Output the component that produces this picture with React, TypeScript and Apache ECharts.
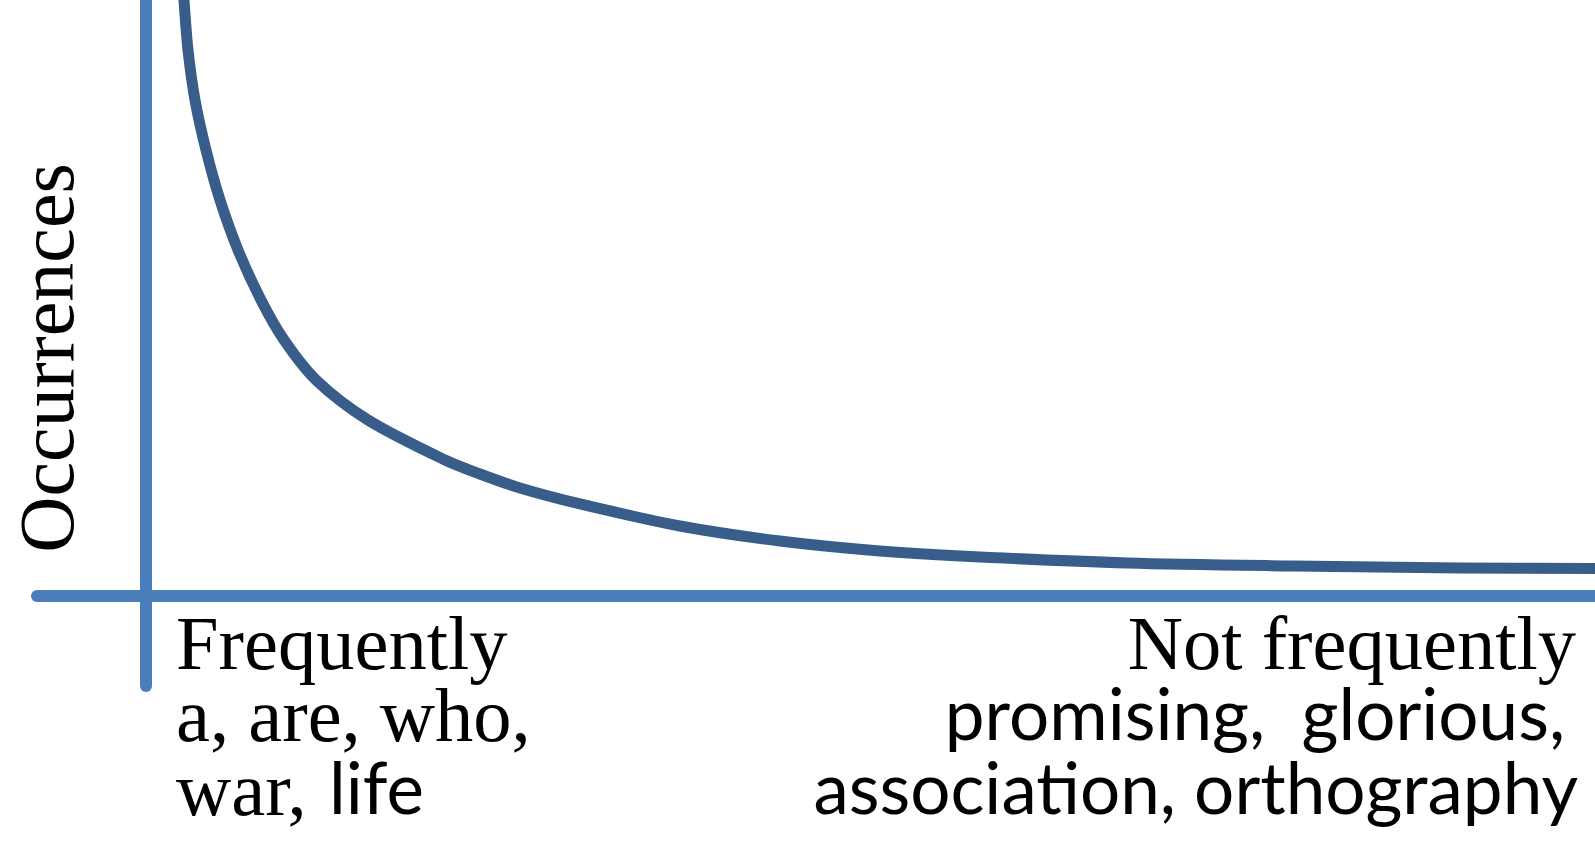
import React, { useEffect, useRef } from "react";
import * as echarts from "echarts";

// Word rank position (0 = most frequent, 100 = least frequent shown)
const rank = [2.449, 2.656, 2.932, 3.415, 4.174, 5.14, 6.382, 7.968, 9.555, 11.763, 15.35, 20.662, 23.077, 25.837, 29.976, 36.875, 43.774, 50.673, 56.192, 67.713, 79.165, 90.686, 100];
// Occurrences (relative units)
const occurrences = [108.4, 100.0, 91.6, 83.21, 74.81, 66.41, 58.02, 49.62, 42.91, 36.19, 29.47, 22.75, 20.4, 18.05, 15.37, 11.67, 9.15, 7.47, 6.63, 5.46, 4.95, 4.62, 4.53];

const yAxisTitle = "Occurrences";
const leftLabelLines = ["Frequently", "a, are, who,", "war, ", "life"];
const rightLabelLines = ["Not frequently", "promising,\u00a0 glorious,", "association, orthography"];

const AXIS_COLOR = "#4A7EBB";
const CURVE_COLOR = "#385D8A";
const SERIF = "'Liberation Serif', 'Times New Roman', serif";
const SANS = "Lato, 'Open Sans', sans-serif";

export default function App() {
  const ref = useRef<HTMLDivElement>(null);

  useEffect(() => {
    if (!ref.current) return;
    const chart = echarts.init(ref.current, undefined, { renderer: "svg" });
    const data = rank.map((r, i) => [r, occurrences[i]]);
    const serifText = (text: string, x: number, y: number, align: string) => ({
      type: "text",
      x,
      y,
      style: { text, font: `76.5px ${SERIF}`, fill: "#000", align, verticalAlign: "middle" },
    });
    const sansText = (text: string, x: number, y: number, align: string) => ({
      type: "text",
      x,
      y,
      style: { text, font: `71px ${SANS}`, fill: "#000", align, verticalAlign: "middle" },
    });
    chart.setOption({
      animation: false,
      backgroundColor: "#ffffff",
      grid: { left: 37, right: 0, top: 0, bottom: 163, containLabel: false },
      xAxis: {
        type: "value",
        min: -7.485,
        max: 100,
        axisLine: { show: true, onZero: true, lineStyle: { color: AXIS_COLOR, width: 12 } },
        axisTick: { show: false },
        axisLabel: { show: false },
        splitLine: { show: false },
      },
      yAxis: {
        type: "value",
        min: -15.2,
        max: 100,
        axisLine: { show: true, onZero: true, lineStyle: { color: AXIS_COLOR, width: 12 } },
        axisTick: { show: false },
        axisLabel: { show: false },
        splitLine: { show: false },
      },
      series: [
        {
          type: "line",
          data,
          smooth: 0.3,
          clip: true,
          showSymbol: false,
          symbol: "none",
          lineStyle: { color: CURVE_COLOR, width: 11, join: "round" },
        },
      ],
      graphic: [
        {
          type: "text",
          x: 46,
          y: 358,
          rotation: Math.PI / 2,
          style: { text: yAxisTitle, font: `78px ${SERIF}`, fill: "#000", align: "center", verticalAlign: "middle" },
        },
        serifText(leftLabelLines[0], 176, 643, "left"),
        serifText(leftLabelLines[1], 176, 715, "left"),
        serifText(leftLabelLines[2], 176, 789, "left"),
        sansText(leftLabelLines[3], 329, 786, "left"),
        serifText(rightLabelLines[0], 1576, 643, "right"),
        sansText(rightLabelLines[1], 1565, 712, "right"),
        sansText(rightLabelLines[2], 1578, 786, "right"),
      ],
    });
    return () => chart.dispose();
  }, []);

  return (
    <div
      ref={ref}
      style={{ position: "absolute", left: 0, top: 0, width: 1595, height: 849, background: "#fff" }}
    />
  );
}
